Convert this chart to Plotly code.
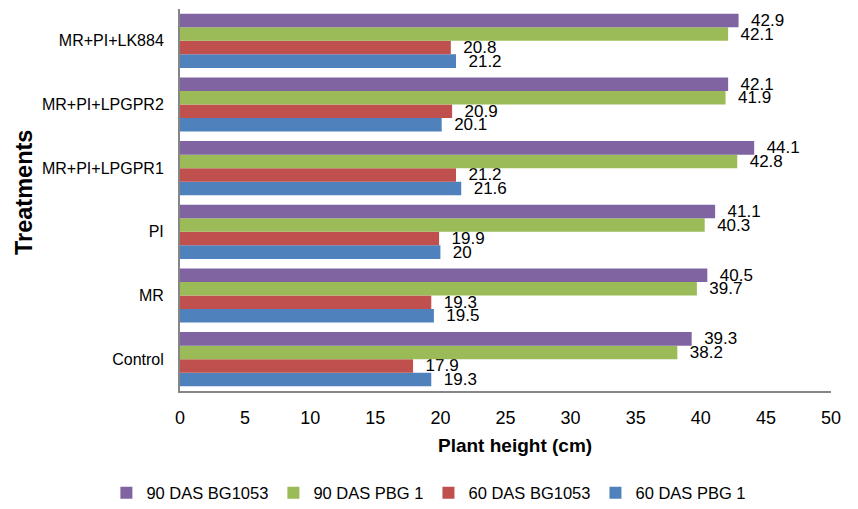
import plotly.graph_objects as go

# Treatments, listed bottom to top as they appear on the axis
treatments = ["Control", "MR", "PI", "MR+PI+LPGPR1", "MR+PI+LPGPR2", "MR+PI+LK884"]

# Plant height (cm) per sampling / variety
das60_pbg1 = [19.3, 19.5, 20, 21.6, 20.1, 21.2]
das60_bg1053 = [17.9, 19.3, 19.9, 21.2, 20.9, 20.8]
das90_pbg1 = [38.2, 39.7, 40.3, 42.8, 41.9, 42.1]
das90_bg1053 = [39.3, 40.5, 41.1, 44.1, 42.1, 42.9]

series = [
    ("60 DAS PBG 1", das60_pbg1, "#4F81BD"),
    ("60 DAS BG1053", das60_bg1053, "#C0504D"),
    ("90 DAS PBG 1", das90_pbg1, "#9BBB59"),
    ("90 DAS BG1053", das90_bg1053, "#8064A2"),
]

FONT = "Liberation Sans, Arial, Helvetica, sans-serif"

# plot area in pixels
L, R, T, B = 180, 831, 9, 391
PW, PH = R - L, B - T

fig = go.Figure()
for name, vals, color in series:
    fig.add_trace(go.Bar(
        name=name,
        y=treatments,
        x=vals,
        orientation="h",
        marker=dict(color=color, line=dict(width=0)),
        text=vals,
        texttemplate="\u00a0\u00a0%{x}",
        textposition="outside",
        constraintext="none",
        cliponaxis=False,
        textfont=dict(family=FONT, size=17, color="#000000"),
    ))

fig.update_layout(
    width=858,
    height=509,
    margin=dict(l=L, r=858 - R, t=T, b=509 - B),
    paper_bgcolor="white",
    plot_bgcolor="white",
    barmode="group",
    bargap=0.15,
    bargroupgap=0,
    font=dict(family=FONT, color="#000000"),
    showlegend=True,
    legend=dict(
        orientation="h",
        traceorder="reversed",
        xref="container",
        x=0.124,
        xanchor="left",
        yref="container",
        y=1 - 493 / 509,
        yanchor="middle",
        font=dict(family=FONT, size=16.5, color="#000000"),
        bgcolor="rgba(0,0,0,0)",
    ),
    xaxis=dict(
        range=[0, 50],
        tickmode="array",
        tickvals=[0, 5, 10, 15, 20, 25, 30, 35, 40, 45, 50],
        showgrid=False,
        zeroline=False,
        showline=True,
        linecolor="#868686",
        linewidth=2,
        ticks="",
        ticklabelstandoff=9,
        tickfont=dict(family=FONT, size=18, color="#000000"),
    ),
    yaxis=dict(
        type="category",
        categoryorder="array",
        categoryarray=treatments,
        showgrid=False,
        zeroline=False,
        showline=True,
        linecolor="#868686",
        linewidth=2,
        ticks="",
        ticklabelstandoff=11,
        tickfont=dict(family=FONT, size=16, color="#000000"),
    ),
    annotations=[
        dict(
            text="<b>Plant height (cm)</b>",
            xref="paper", yref="paper",
            x=(515 - L) / PW, y=-(445 - B) / PH,
            xanchor="center", yanchor="middle",
            showarrow=False,
            font=dict(family=FONT, size=19, color="#000000"),
        ),
        dict(
            text="<b>Treatments</b>",
            xref="paper", yref="paper",
            x=(24 - L) / PW, y=(B - 193) / PH,
            xanchor="center", yanchor="middle",
            textangle=-90,
            showarrow=False,
            font=dict(family=FONT, size=23.5, color="#000000"),
        ),
    ],
)

fig.write_html("out.html")
